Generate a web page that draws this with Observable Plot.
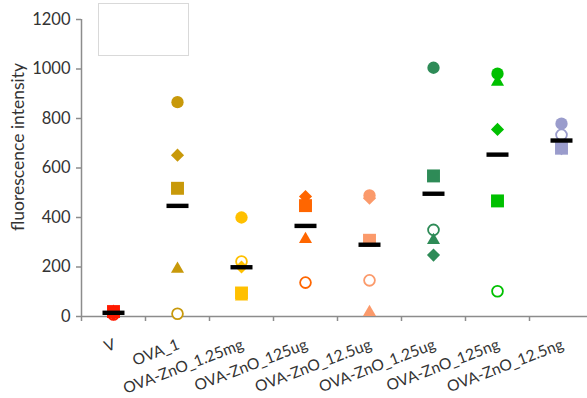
<!DOCTYPE html>
<html><head><meta charset="utf-8">
<script src="https://cdn.jsdelivr.net/npm/d3@7"></script>
<script src="https://cdn.jsdelivr.net/npm/@observablehq/plot@0.6"></script>
<style>
body{margin:0;background:#fff;}
#wrap{position:relative;width:587px;height:398px;overflow:hidden;}
#legend{position:absolute;left:98px;top:3px;width:89px;height:51px;border:1px solid #d9d9d9;background:#fff;}
</style></head><body><div id="wrap"></div>
<script>
const categories = ["V","OVA_1","OVA-ZnO_1.25mg","OVA-ZnO_125ug","OVA-ZnO_12.5ug","OVA-ZnO_1.25ug","OVA-ZnO_125ng","OVA-ZnO_12.5ng"];
const colors = ["#ff1a00","#c8990a","#ffc000","#ff6600","#fb9a6b","#2e8b57","#00c000","#9a9ccc"];
const circleVals   = [15, 866, 400, 452, 489, 1005, 981, 779];
const diamondVals  = [10, 652, 200, 485, 478, 248, 756, 678];
const squareVals   = [20, 518, 95, 448, 308, 568, 467, 680];
const triangleVals = [18, 192, 80, 312, 17, 308, 948, 684];
const openVals     = [8, 11, 222, 137, 146, 350, 102, 734];
const meanVals     = [15, 447, 199, 366, 290, 496, 654, 711];
const yTicks = [0, 200, 400, 600, 800, 1000, 1200];
const yLabel = "fluorescence intensity";

const idx = categories.map((_, i) => i);
const boundaries = categories.map((_, i) => i - 0.5).concat([categories.length - 0.5]);
const barSymbol = {draw(ctx) { ctx.moveTo(-11, -2.2); ctx.lineTo(11, -2.2); ctx.lineTo(11, 2.2); ctx.lineTo(-11, 2.2); ctx.closePath(); }};
const axisGray = "#8c8c8c";
const textColor = "#333";

const chart = Plot.plot({
  width: 587, height: 398,
  marginLeft: 81, marginRight: 0, marginTop: 19, marginBottom: 82,
  style: {fontFamily: "Lato", fontSize: "16px", color: textColor, background: "#fff"},
  x: {type: "linear", domain: [-0.5, categories.length - 0.5], range: [81, 593], axis: null},
  y: {domain: [0, 1200], axis: null},
  color: {type: "identity"},
  marks: [
    Plot.ruleY([0], {stroke: axisGray, strokeWidth: 1.5}),
    Plot.ruleX([-0.5], {stroke: axisGray, strokeWidth: 1.5}),
    Plot.axisY({ticks: yTicks, tickSize: 5, tickPadding: 6, tickFormat: d => String(d), stroke: axisGray, strokeWidth: 1.5, label: null, fontSize: 16.5}),
    Plot.axisX({ticks: boundaries, tickSize: 5, tickFormat: () => "", stroke: axisGray, strokeWidth: 1.5, label: null}),
    Plot.text(idx, {x: i => i, frameAnchor: "bottom", text: i => categories[i], rotate: -21, textAnchor: "end", lineAnchor: "bottom", dy: 32, dx: 3, fontSize: 15.6, fill: textColor}),
    Plot.text([yLabel], {frameAnchor: "left", rotate: -90, dx: -63, dy: -21, textAnchor: "middle", lineAnchor: "middle", text: d => d, fontSize: 17.5, fill: textColor}),
    Plot.dot(idx, {x: i => i, y: i => openVals[i], stroke: i => colors[i], fill: "#fff", strokeWidth: 1.8, r: 5.4, symbol: "circle"}),
    Plot.dot(idx, {x: i => i, y: i => triangleVals[i], fill: i => colors[i], r: 4.85, symbol: "triangle"}),
    Plot.dot(idx, {x: i => i, y: i => squareVals[i], fill: i => colors[i], r: 7.3, symbol: "square"}),
    Plot.dot(idx, {x: i => i, y: i => diamondVals[i], fill: i => colors[i], r: 5.9, symbol: "diamond2"}),
    Plot.dot(idx, {x: i => i, y: i => circleVals[i], fill: i => colors[i], r: 6.15, symbol: "circle"}),
    Plot.dot(idx, {x: i => i, y: i => meanVals[i], fill: "#000", r: 5, symbol: barSymbol})
  ]
});
const wrap = document.getElementById("wrap");
wrap.appendChild(chart);
const legend = document.createElement("div");
legend.id = "legend";
wrap.appendChild(legend);
</script>
</body></html>
